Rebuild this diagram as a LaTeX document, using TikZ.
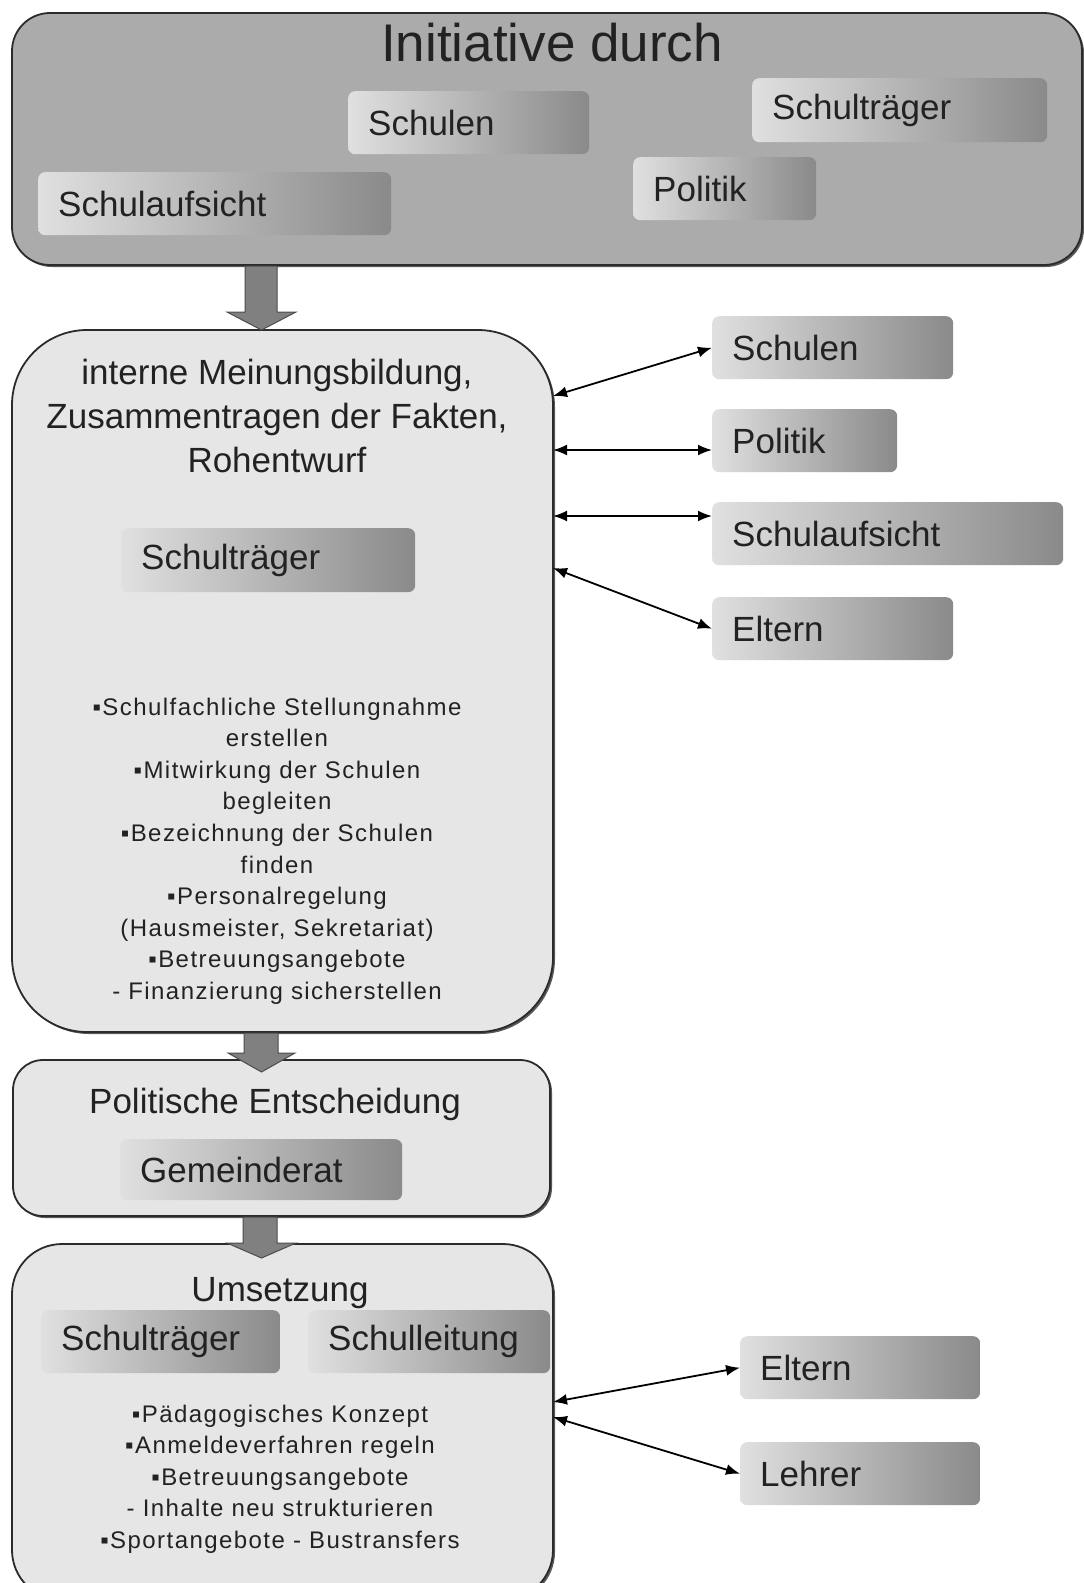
\documentclass[tikz,border=0pt]{standalone}
\usepackage{fontspec}
\setmainfont{Liberation Sans}
\newfontfamily\listfont[LetterSpace=6]{Liberation Sans}
\usetikzlibrary{arrows.meta,shadows,calc}
\definecolor{topfill}{HTML}{ABABAB}
\definecolor{boxfill}{HTML}{E6E6E6}
\definecolor{edgec}{HTML}{2B2B2B}
\definecolor{lblL}{HTML}{E0E0E0}
\definecolor{lblM}{HTML}{C6C6C6}
\definecolor{lblR}{HTML}{8A8A8A}
\definecolor{arrfill}{HTML}{808080}
\definecolor{arredge}{HTML}{4C4C4C}
\definecolor{txt}{HTML}{222222}
\begin{document}
\begin{tikzpicture}[x=1pt,y=-1pt,
  bigbox/.style={draw=edgec, line width=1.8pt, fill=boxfill, inner sep=0pt,
    drop shadow={shadow xshift=2pt,shadow yshift=-2pt,fill=black!65,opacity=1}},
  lbl/.style={rounded corners=7pt, left color=lblL, middle color=lblM, right color=lblR,
    inner xsep=20pt, inner ysep=0pt, align=left, anchor=north west, text=txt,
    font=\fontsize{35}{40}\selectfont},
  link/.style={{Latex[length=14pt,width=11pt]}-{Latex[length=14pt,width=11pt]}, line width=1.8pt, black},
  bigarrow/.style={fill=arrfill, draw=arredge, line width=1pt, line join=miter},
  head/.style={text=txt, align=center, font=\fontsize{35}{44}\selectfont},
  blist/.style={text=txt, align=center, font=\listfont\fontsize{24}{31.6}\selectfont},
]
\useasboundingbox (0,0) rectangle (1084,1583);
\fill[white] (0,0) rectangle (1084,1583);
\clip (0,0) rectangle (1084,1583);

% big boxes
\node[bigbox, fill=topfill, rounded corners=38pt, minimum width=1070pt, minimum height=252pt] (top) at (547,139) {};
\node[bigbox, rounded corners=75pt, minimum width=541pt, minimum height=702pt] (box2) at (282.5,681) {};
\node[bigbox, rounded corners=30pt, minimum width=537pt, minimum height=156pt] (box3) at (281.5,1138) {};
\node[bigbox, rounded corners=50pt, minimum width=541pt, minimum height=356pt] (box4) at (282.5,1422) {};

% top box content
\node[text=txt, font=\fontsize{53}{60}\selectfont] (title) at (552,43) {Initiative durch};
\node[lbl, text width=201pt, minimum height=63pt] (tschulen) at (348,91) {Schulen};
\node[lbl, text width=255pt, minimum height=64pt] (ttraeger) at (752,78) {Schulträger};
\node[lbl, text width=313pt, minimum height=63pt] (taufsicht) at (38,172) {Schulaufsicht};
\node[lbl, text width=143pt, minimum height=63pt] (tpolitik) at (633,157) {Politik};

% box 2 content
\node[head] (h2) at (277,416) {interne Meinungsbildung,\\Zusammentragen der Fakten,\\Rohentwurf};
\node[lbl, text width=254pt, minimum height=64pt] (b2traeger) at (121,528) {Schulträger};
\node[blist] (list2) at (277,851) {▪Schulfachliche Stellungnahme\\erstellen\\▪Mitwirkung der Schulen\\begleiten\\▪Bezeichnung der Schulen\\finden\\▪Personalregelung\\(Hausmeister, Sekretariat)\\▪Betreuungsangebote\\- Finanzierung sicherstellen};

% right boxes (upper)
\node[lbl, text width=201pt, minimum height=63pt] (r1) at (712,316) {Schulen};
\node[lbl, text width=145pt, minimum height=63pt] (r2) at (712,409) {Politik};
\node[lbl, text width=311pt, minimum height=63pt] (r3) at (712,502) {Schulaufsicht};
\node[lbl, text width=201pt, minimum height=63pt] (r4) at (712,597) {Eltern};

% box 3 content
\node[head] (h3) at (275,1104) {Politische Entscheidung};
\node[lbl, text width=242pt, minimum height=61pt] (gemeinderat) at (120,1139) {Gemeinderat};

% box 4 content
\node[head] (h4) at (280,1293) {Umsetzung};
\node[lbl, text width=199pt, minimum height=63pt] (b4traeger) at (41,1310) {Schulträger};
\node[lbl, text width=202pt, minimum height=63pt] (b4leitung) at (308,1310) {Schulleitung};
\node[blist] (list4) at (280,1479) {▪Pädagogisches Konzept\\▪Anmeldeverfahren regeln\\▪Betreuungsangebote\\- Inhalte neu strukturieren\\▪Sportangebote - Bustransfers};

% right boxes (lower)
\node[lbl, text width=200pt, minimum height=63pt] (e1) at (740,1336) {Eltern};
\node[lbl, text width=200pt, minimum height=63pt] (l1) at (740,1442) {Lehrer};

% connectors
\coordinate (a1) at (553,396);
\coordinate (a2) at (553,450);
\coordinate (a3) at (553,516);
\coordinate (a4) at (553,568);
\coordinate (a5) at (553,1402);
\coordinate (a6) at (553,1417);
\draw[link] (a1) -- (r1.west);
\draw[link] (a2) -- (r2.west |- a2);
\draw[link] (a3) -- (r3.west |- a3);
\draw[link] (a4) -- (r4.west);
\draw[link] (a5) -- (e1.west);
\draw[link] (a6) -- (l1.west);

% big arrows
\draw[bigarrow] (245,266) -- (277,266) -- (277,312) -- (296,312) -- (261.5,330) -- (227,312) -- (245,312) -- cycle;
\draw[bigarrow] (244,1033) -- (278,1033) -- (278,1053) -- (295,1053) -- (261.5,1072) -- (228,1053) -- (244,1053) -- cycle;
\draw[bigarrow] (243,1217) -- (277,1217) -- (277,1243) -- (296,1243) -- (261.5,1258) -- (227,1243) -- (243,1243) -- cycle;
\end{tikzpicture}
\end{document}
